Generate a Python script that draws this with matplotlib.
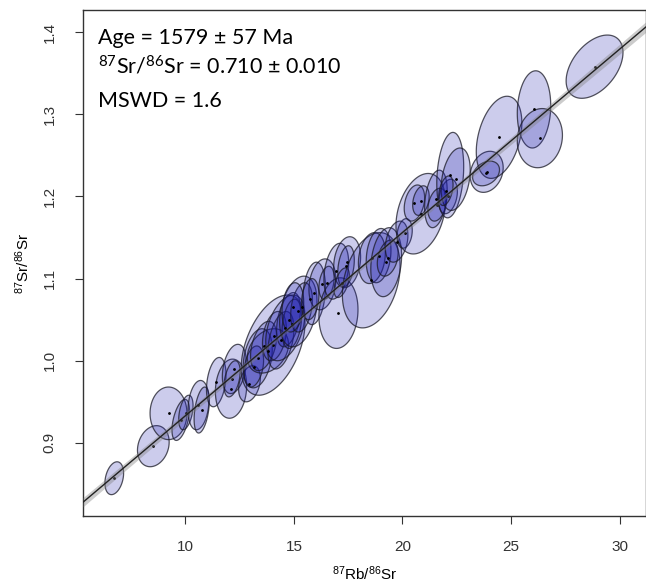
import numpy as np
import matplotlib.pyplot as plt
from matplotlib.patches import Polygon

plt.rcParams['font.family'] = ['Liberation Sans', 'DejaVu Sans']

# isochron result
age = 1579
age_err = 57
sr_initial = 0.710
sr_initial_err = 0.010
mswd = 1.6
lam_rb = 1.3972e-11

# measured ratios, error ellipse half widths and error correlations
rb_sr = [6.72, 8.52, 9.22, 9.78, 10.02, 10.60, 10.75, 11.42, 12.10, 12.25,
         12.15, 12.95, 14.04, 13.33, 13.15, 13.80, 13.60, 14.10, 14.40, 14.75,
         14.60, 14.90, 15.20, 15.35, 14.95, 15.93, 16.31, 15.75, 16.50, 17.05,
         16.95, 17.45, 17.40, 17.20, 18.56, 18.59, 18.90, 19.25, 19.32, 19.73,
         20.10, 20.84, 20.55, 20.85, 21.54, 21.60, 22.10, 22.20, 22.45, 22.00,
         23.88, 24.45, 23.85, 26.06, 26.33, 28.85]
rb_sr_err = [0.43, 0.73, 0.85, 0.40, 0.33, 0.48, 0.35, 0.45, 0.72, 0.55,
             0.37, 0.50, 1.47, 0.67, 0.45, 0.95, 0.60, 0.55, 0.60, 0.55,
             0.90, 0.45, 0.86, 0.50, 0.50, 0.52, 0.62, 0.40, 0.35, 0.90,
             0.57, 0.62, 0.38, 0.35, 1.33, 0.62, 0.57, 0.71, 0.48, 0.52,
             0.35, 1.14, 0.47, 0.38, 0.52, 0.43, 0.43, 0.62, 0.67, 0.33,
             0.76, 1.05, 0.62, 0.77, 1.04, 1.31]
sr_sr = [0.857, 0.896, 0.936, 0.928, 0.937, 0.946, 0.940, 0.974, 0.966, 0.990,
         0.978, 0.972, 1.019, 1.003, 0.993, 1.012, 1.018, 1.030, 1.025, 1.050,
         1.040, 1.045, 1.060, 1.065, 1.065, 1.082, 1.093, 1.075, 1.095, 1.058,
         1.109, 1.120, 1.115, 1.095, 1.098, 1.125, 1.128, 1.120, 1.125, 1.145,
         1.155, 1.179, 1.192, 1.195, 1.197, 1.190, 1.200, 1.226, 1.221, 1.207,
         1.230, 1.272, 1.228, 1.306, 1.271, 1.358]
sr_sr_err = [0.020, 0.025, 0.032, 0.025, 0.021, 0.030, 0.028, 0.030, 0.036, 0.030,
             0.022, 0.022, 0.061, 0.036, 0.025, 0.027, 0.030, 0.030, 0.035, 0.033,
             0.040, 0.030, 0.043, 0.030, 0.030, 0.038, 0.031, 0.025, 0.020, 0.043,
             0.034, 0.031, 0.025, 0.018, 0.058, 0.031, 0.033, 0.042, 0.022, 0.025,
             0.018, 0.049, 0.022, 0.018, 0.035, 0.020, 0.021, 0.052, 0.038, 0.018,
             0.025, 0.050, 0.015, 0.047, 0.036, 0.0385]
rho = [0.3, 0.2, 0.0, 0.5, 0.4, 0.2, 0.4, 0.3, 0.1, 0.3,
       0.4, 0.3, 0.45, 0.3, 0.3, 0.3, 0.4, 0.3, 0.4, 0.4,
       0.4, 0.3, 0.3, 0.3, 0.2, 0.2, 0.2, 0.2, 0.3, 0.1,
       0.3, 0.2, 0.3, 0.5, 0.3, 0.2, 0.2, 0.2, 0.3, 0.3,
       0.2, 0.3, 0.3, 0.3, 0.3, 0.3, 0.3, 0.2, 0.3, 0.4,
       0.2, 0.35, 0.3, 0.1, 0.1, 0.45]

x_ticks = [10, 15, 20, 25, 30]
y_ticks = [0.9, 1.0, 1.1, 1.2, 1.3, 1.4]
x_lim = (5.28, 31.22)
y_lim = (0.811, 1.427)

fig = plt.figure(figsize=(6.46, 5.83), dpi=100)
ax = fig.add_axes([83 / 646, 67 / 583, 563 / 646, 506 / 583])

t = np.linspace(0, 2 * np.pi, 120)
for xi, sxi, yi, syi, ri in zip(rb_sr, rb_sr_err, sr_sr, sr_sr_err, rho):
    ex = xi + sxi * np.cos(t)
    ey = yi + syi * (ri * np.cos(t) + np.sqrt(1 - ri ** 2) * np.sin(t))
    ax.add_patch(Polygon(np.column_stack([ex, ey]), closed=True,
                         facecolor=(0.1, 0.1, 0.67, 0.22), edgecolor=(0.1, 0.1, 0.15, 0.75),
                         linewidth=0.9, zorder=2))
ax.plot(rb_sr, sr_sr, 'o', ms=1.0, color='black', zorder=3)

# isochron line with its error envelope
slope = np.exp(lam_rb * age * 1e6) - 1
xx = np.linspace(x_lim[0], x_lim[1], 200)
yy = sr_initial + slope * xx
hw = np.sqrt(0.003 ** 2 + ((xx - 17) * 0.0004) ** 2)
ax.fill_between(xx, yy - hw, yy + hw, color='grey', alpha=0.4, linewidth=0, zorder=4)
ax.plot(xx, yy, color='#222222', linewidth=1.0, zorder=5)

ax.set_xlim(x_lim)
ax.set_ylim(y_lim)
ax.set_xticks(x_ticks)
ax.set_yticks(y_ticks)
ax.set_xticklabels([str(v) for v in x_ticks])
ax.set_yticklabels(['%.1f' % v for v in y_ticks], rotation=90, va='center')
ax.tick_params(direction='out', length=6, width=0.8, labelsize=11, colors='#333333')
ax.tick_params(axis='x', pad=11)
ax.tick_params(axis='y', pad=13)
for s in ax.spines.values():
    s.set_linewidth(1.0)
    s.set_color('#333333')

ax.set_xlabel(r'$\mathregular{^{87}Rb/^{86}Sr}$', fontsize=11)
ax.set_ylabel(r'$\mathregular{^{87}Sr/^{86}Sr}$', fontsize=11)
ax.xaxis.set_label_coords(0.5, (516 - 574) / 506)
ax.xaxis.label.set_va('center')
ax.yaxis.set_label_coords((23 - 83) / 563, 0.5)
ax.yaxis.label.set_va('center')

txt = dict(family=['Lato', 'DejaVu Sans'], fontsize=15.5, color='black')
fig.text(98 / 646, 1 - 44 / 583, 'Age = %d ± %d Ma' % (age, age_err), va='baseline', **txt)
fig.text(98 / 646, 1 - 74 / 583,
         r'$\mathregular{^{87}Sr/^{86}Sr}$ = %.3f ± %.3f' % (sr_initial, sr_initial_err),
         va='baseline', **txt)
fig.text(98 / 646, 1 - 107 / 583, 'MSWD = %.1f' % mswd, va='baseline', **txt)

fig.savefig('out.png', dpi=100)
